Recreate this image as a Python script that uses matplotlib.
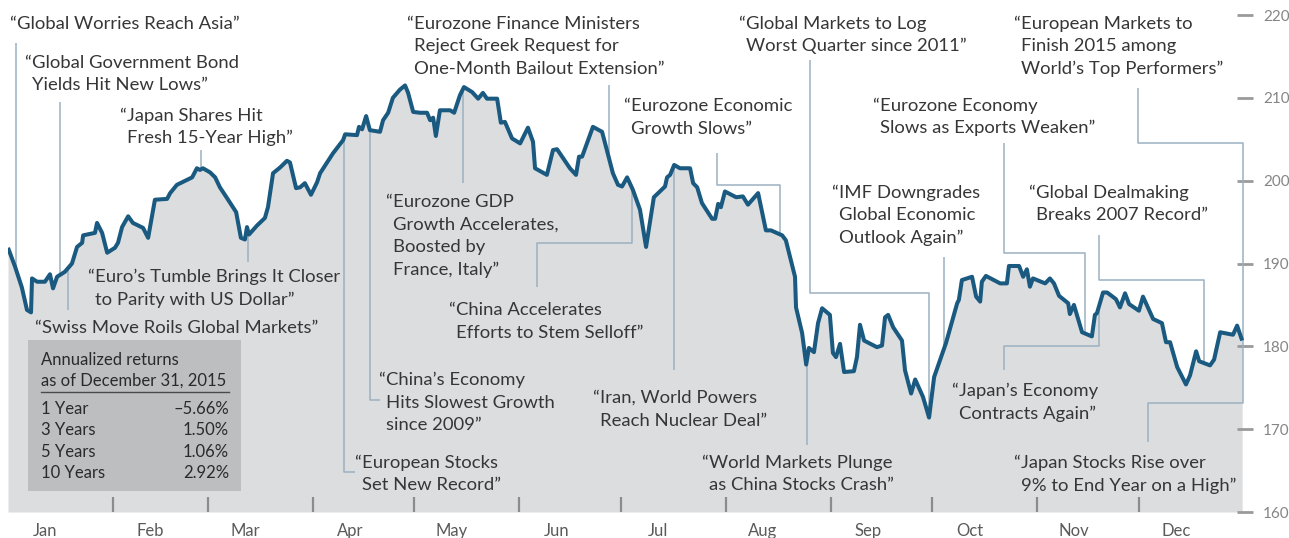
import numpy as np
import matplotlib
matplotlib.use("Agg")
import matplotlib.pyplot as plt
from matplotlib.transforms import Affine2D
from matplotlib.patches import Rectangle
import datetime as dt

# ---------------- data ----------------
# x: day of year 2015 (0 = Jan 1), y: index level
days = [0.0, 2.1, 4.1, 5.6, 6.8, 7.1, 8.6, 10.9, 12.4, 13.3,
        14.5, 16.8, 18.9, 20.4, 21.9, 22.2, 25.7, 26.3, 27.8, 29.3,
        31.6, 32.5, 33.7, 35.5, 36.9, 39.9, 41.4, 43.4, 47.0, 47.9,
        49.9, 52.9, 54.4, 55.8, 56.7, 57.6, 59.7, 61.2, 62.6, 64.7,
        67.4, 68.8, 70.0, 70.6, 71.2, 73.6, 75.9, 76.8, 78.3, 80.4,
        82.4, 83.3, 85.1, 86.3, 87.7, 89.5, 91.3, 92.2, 96.0, 99.0,
        99.6, 103.1, 103.7, 104.6, 105.8, 106.9, 109.9, 110.8, 112.3, 113.7,
        115.8, 117.3, 118.2, 119.7, 121.7, 123.8, 124.7, 125.6, 126.4, 127.6,
        130.6, 131.8, 133.5, 134.7, 137.1, 138.9, 140.3, 141.5, 144.5, 145.6,
        146.8, 148.9, 151.3, 153.6, 155.1, 155.7, 159.2, 161.0, 162.2, 166.0,
        167.8, 168.7, 169.6, 172.8, 175.5, 178.7, 180.2, 181.4, 182.9, 184.6,
        186.7, 188.5, 190.8, 194.1, 194.7, 195.6, 196.8, 198.5, 201.5, 202.4,
        203.6, 205.0, 208.0, 208.9, 209.8, 210.6, 211.8, 215.1, 217.1, 218.6,
        221.6, 223.9, 225.4, 228.7, 229.8, 232.5, 232.8, 234.6, 235.8, 236.6,
        238.1, 239.3, 240.5, 242.8, 243.7, 244.6, 245.8, 247.0, 249.9, 250.8,
        251.7, 252.9, 256.7, 258.2, 259.1, 260.0, 261.5, 264.1, 265.0, 266.8,
        268.0, 270.3, 272.1, 273.6, 277.1, 280.4, 280.9, 281.8, 284.8, 286.0,
        287.2, 287.7, 288.9, 293.1, 295.1, 295.7, 298.7, 299.9, 301.0, 301.9,
        302.8, 306.4, 307.8, 309.0, 310.5, 313.2, 313.7, 314.9, 317.3, 320.2,
        321.1, 321.7, 323.5, 324.7, 327.3, 328.5, 330.0, 331.2, 334.1, 335.3,
        338.3, 340.9, 342.1, 343.3, 345.4, 348.0, 349.2, 351.0, 351.9, 355.1,
        356.3, 358.1, 361.9, 363.1, 364.6]

values = [191.9, 189.6, 187.1, 184.4, 184.1, 188.2, 187.8, 187.8, 188.7, 187.0,
          188.4, 189.0, 190.0, 192.0, 192.5, 193.4, 193.7, 194.9, 193.7, 191.3,
          191.9, 192.5, 194.4, 195.7, 194.9, 194.3, 193.1, 197.7, 197.8, 198.5,
          199.5, 200.1, 200.4, 201.5, 201.3, 201.5, 201.0, 200.4, 199.2, 197.9,
          196.2, 193.1, 192.9, 194.4, 193.5, 194.6, 195.5, 196.8, 200.9, 201.6,
          202.4, 202.2, 199.1, 199.2, 199.7, 198.3, 199.8, 200.9, 203.3, 204.9,
          205.6, 205.5, 206.5, 206.2, 207.8, 206.1, 205.9, 207.3, 208.2, 210.0,
          211.0, 211.5, 210.6, 208.3, 208.2, 208.2, 207.3, 207.6, 205.4, 208.5,
          208.5, 208.2, 210.3, 211.3, 210.7, 209.9, 210.6, 209.9, 209.9, 207.0,
          207.1, 205.1, 204.5, 206.4, 204.7, 201.5, 200.7, 203.7, 203.8, 201.5,
          200.7, 202.9, 202.9, 206.5, 205.9, 200.9, 199.5, 199.3, 200.4, 198.9,
          196.5, 192.0, 198.0, 199.3, 200.4, 200.7, 201.9, 201.5, 201.5, 199.7,
          199.2, 197.3, 195.4, 195.4, 197.2, 196.8, 198.7, 198.0, 198.1, 197.1,
          198.5, 194.0, 194.0, 193.4, 192.8, 188.4, 184.7, 181.6, 177.8, 179.8,
          179.3, 182.8, 184.6, 183.8, 179.2, 178.7, 180.3, 176.9, 177.0, 178.7,
          182.6, 180.7, 179.9, 180.1, 183.5, 183.8, 182.3, 180.7, 177.1, 174.3,
          176.0, 173.9, 171.4, 176.3, 180.4, 185.2, 185.6, 188.0, 188.4, 186.0,
          185.4, 187.8, 188.5, 187.6, 187.6, 189.7, 189.7, 188.4, 189.3, 187.2,
          188.2, 187.6, 188.2, 187.6, 186.1, 185.2, 183.9, 185.0, 181.7, 181.2,
          183.8, 184.0, 186.5, 186.5, 185.7, 184.7, 186.4, 185.1, 184.3, 186.0,
          183.3, 182.8, 180.5, 180.5, 177.5, 175.4, 176.5, 179.4, 178.2, 177.7,
          178.4, 181.7, 181.4, 182.5, 180.7]

months = ["Jan", "Feb", "Mar", "Apr", "May", "Jun",
          "Jul", "Aug", "Sep", "Oct", "Nov", "Dec"]
yticks = [160, 170, 180, 190, 200, 210, 220]

table_title = ["Annualized returns", "as of December 31, 2015"]
periods = ["1 Year", "3 Years", "5 Years", "10 Years"]
returns = ["\u20135.66%", "1.50%", "1.06%", "2.92%"]

headlines = [
    ["Global Worries Reach Asia"],
    ["Global Government Bond", "Yields Hit New Lows"],
    ["Japan Shares Hit", "Fresh 15-Year High"],
    ["Euro\u2019s Tumble Brings It Closer", "to Parity with US Dollar"],
    ["Swiss Move Roils Global Markets"],
    ["European Stocks", "Set New Record"],
    ["China\u2019s Economy", "Hits Slowest Growth", "since 2009"],
    ["Eurozone GDP", "Growth Accelerates,", "Boosted by", "France, Italy"],
    ["Eurozone Finance Ministers", "Reject Greek Request for", "One-Month Bailout Extension"],
    ["China Accelerates", "Efforts to Stem Selloff"],
    ["Eurozone Economic", "Growth Slows"],
    ["Iran, World Powers", "Reach Nuclear Deal"],
    ["Global Markets to Log", "Worst Quarter since 2011"],
    ["World Markets Plunge", "as China Stocks Crash"],
    ["IMF Downgrades", "Global Economic", "Outlook Again"],
    ["Eurozone Economy", "Slows as Exports Weaken"],
    ["Japan\u2019s Economy", "Contracts Again"],
    ["Global Dealmaking", "Breaks 2007 Record"],
    ["European Markets to", "Finish 2015 among", "World\u2019s Top Performers"],
    ["Japan Stocks Rise over", "9% to End Year on a High"],
]

# ---------------- layout (reference pixel space) ----------------
W, H = 1289, 538
# (text left x, first baseline y) for each headline
head_pos = [(17, 29), (32, 68), (127, 121), (95, 282), (42, 333),
            (362, 468), (386, 385), (393, 207), (414, 29), (456, 315),
            (631, 111), (600, 403), (746, 29), (709, 468), (839, 198),
            (880, 111), (959, 396), (1036, 198), (1021, 29), (1021, 468)]
# connector polylines in pixel space; None = lands on the curve
connectors = [
    [(16, 43), (16, None)],
    [(60, 102), (60, None)],
    [(201, 150), (201, None)],
    [(248, None), (248, 262)],
    [(68, None), (68, 310)],
    [(344, None), (344, 472), (355, 472)],
    [(370, None), (370, 400), (380, 400)],
    [(463, None), (463, 183)],
    [(609, 85), (609, None)],
    [(537, 287), (537, 243), (632, 243), (632, None)],
    [(674, None), (674, 370)],
    [(717, 153), (717, 185), (780, 185), (780, None)],
    [(810, 60), (810, 293), (929, 293), (929, None)],
    [(807, None), (807, 445)],
    [(944, 257), (944, None)],
    [(1004, 143), (1004, 253), (1085, 253), (1085, None)],
    [(1004, 370), (1004, 346), (1099, 346), (1099, None)],
    [(1099, 235), (1099, 280), (1204, 280), (1204, None)],
    [(1138, 88), (1138, 143), (1243, 143), (1243, None)],
    [(1148, 442), (1148, 403), (1243, 403), (1243, None)],
]

LINE_C = "#1a5a80"
FILL_C = "#dcdddf"
CONN_C = "#9bb0c0"
TEXT_C = "#363636"
FONT = ["Lato", "DejaVu Sans"]

plt.rcParams["font.family"] = FONT

fig = plt.figure(figsize=(W / 100, H / 100), dpi=100)
P = Affine2D().scale(1 / W, -1 / H).translate(0, 1) + fig.transFigure

ax = fig.add_axes([8 / W, 26 / H, 1237 / W, 512 / H])
ax.set_xlim(0, 1237 / 3.385)
ax.set_ylim(160, 160 + 512 / 8.283)
for s in ax.spines.values():
    s.set_visible(False)
ax.patch.set_alpha(0)

ax.fill_between(days, values, 160, color=FILL_C, lw=0, zorder=1)
ax.plot(days, values, color=LINE_C, lw=2.9, solid_joinstyle="round",
        solid_capstyle="butt", zorder=5)

# month separators and labels
month_starts = [(dt.date(2015, m, 1) - dt.date(2015, 1, 1)).days for m in range(1, 13)]
ax.set_xticks(month_starts[1:])
ax.tick_params(axis="x", which="major", direction="in", length=11, width=1.6,
               color="#8c8c8c", labelbottom=False)
ax.set_xticks([s + 11 for s in month_starts], minor=True)
ax.set_xticklabels(months, minor=True)
ax.tick_params(axis="x", which="minor", length=0, pad=8, labelsize=12,
               labelcolor="#5a5a5a")

ax.yaxis.tick_right()
ax.set_yticks(yticks)
ax.set_yticklabels([str(v) for v in yticks])
ax.tick_params(axis="y", direction="inout", length=12, width=2, color="#9a9a9a",
               pad=7, labelsize=11, labelcolor="#858585")

# connectors
inv = ax.transData.inverted()
for path in connectors:
    xs, ys = [], []
    for (px, py) in path:
        if py is None:
            d, _ = inv.transform(P.transform((px, 0)))
            v = float(np.interp(d, days, values))
        else:
            d, v = inv.transform(P.transform((px, py)))
        xs.append(d)
        ys.append(v)
    ax.plot(xs, ys, color=CONN_C, lw=1.1, zorder=3, solid_capstyle="butt")

# headlines
LS = 22.5
HS = 13.3
for lines, (tx, by) in zip(headlines, head_pos):
    fig.text(tx - 1, by, "\u201c", transform=P, ha="right", va="baseline",
             fontsize=HS, color=TEXT_C)
    for i, ln in enumerate(lines):
        txt = ln + ("\u201d" if i == len(lines) - 1 else "")
        fig.text(tx, by + i * LS, txt, transform=P, ha="left", va="baseline",
                 fontsize=HS, color=TEXT_C)

# returns table
fig.patches.append(Rectangle((28, 340), 213, 151, transform=P,
                             facecolor="#bdbec0", edgecolor="none", zorder=6))
TS = 12
for i, t in enumerate(table_title):
    fig.text(41, 365 + i * 20.5, t, transform=P, ha="left", va="baseline",
             fontsize=TS, color="#2a2a2a", zorder=7)
fig.lines.append(plt.Line2D([41, 229], [392, 392], transform=P,
                            color="#4a4a4a", lw=1.0, zorder=7))
for i, (p, r) in enumerate(zip(periods, returns)):
    y = 414 + i * 21.3
    fig.text(41, y, p, transform=P, ha="left", va="baseline",
             fontsize=TS, color="#2a2a2a", zorder=7)
    fig.text(229, y, r, transform=P, ha="right", va="baseline",
             fontsize=TS, color="#2a2a2a", zorder=7)

fig.savefig("out.png", dpi=100, facecolor="white")
